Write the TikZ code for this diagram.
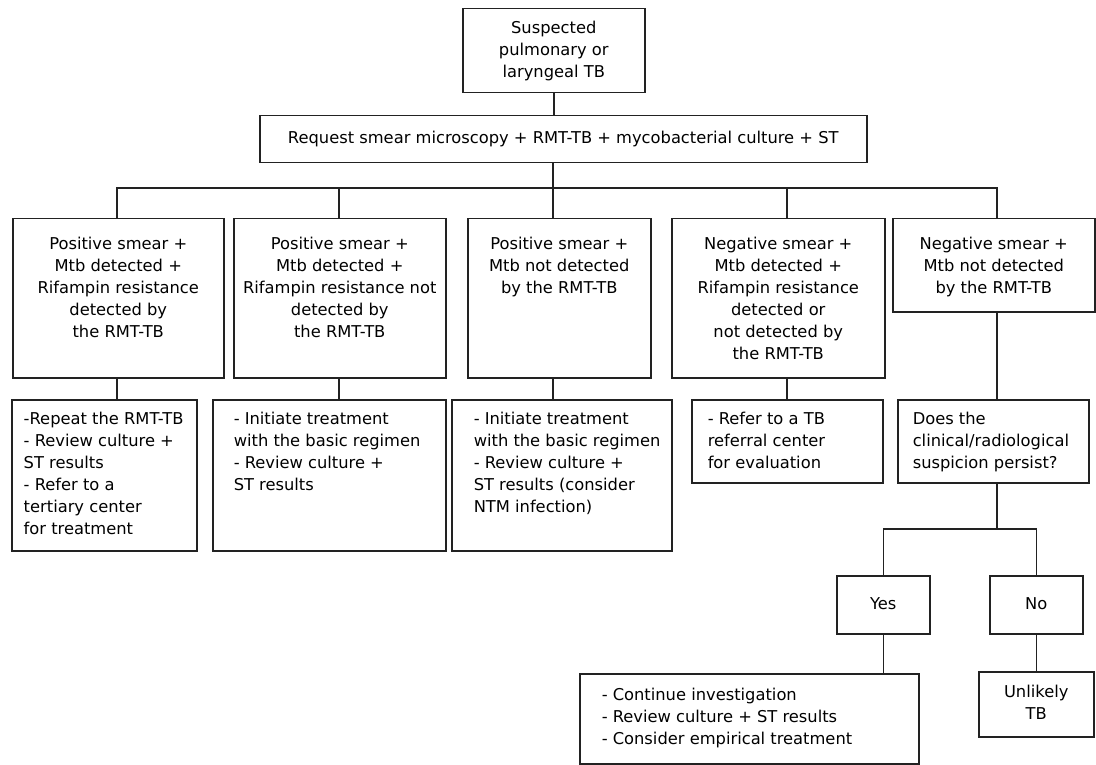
\documentclass[tikz,border=0pt]{standalone}
\usepackage{fontspec}
\setmainfont{DejaVu Sans}
\definecolor{lineclr}{RGB}{34,34,34}
\tikzset{
  bx/.style={draw=lineclr, line width=1.5pt, inner sep=0pt, anchor=north west, fill=white},
  ln/.style={draw=lineclr, line width=1.5pt, line join=miter},
}
% #1 name, #2 x1, #3 y1, #4 x2, #5 y2, #6 inner pos, #7 format, #8 text
\newcommand\fbx[8]{%
  \node[bx] (#1) at (#2,#3) {\parbox[t][\dimexpr #5pt-#3pt\relax][#6]{\dimexpr #4pt-#2pt\relax}{\fontsize{16.3}{22}\selectfont #7\leavevmode\strut #8\strut}};}
\newcommand\ctop[1]{\vspace*{#1pt}\centering}
\newcommand\cmid{\centering}
\newcommand\ltop[2]{\vspace*{#2pt}\raggedright\leftskip=#1pt\relax}
\begin{document}
\begin{tikzpicture}[x=1pt,y=-1pt]
\useasboundingbox (0,0) rectangle (1096,765);
% boxes
\fbx{top}{462}{8}{644}{92}{c}{\cmid}{Suspected\\pulmonary or\\laryngeal TB}
\fbx{req}{259}{115}{866}{162}{c}{\cmid}{Request smear microscopy + RMT-TB + mycobacterial culture + ST}
\fbx{b1}{12}{218}{223}{377}{t}{\ctop{15.6}}{Positive smear +\\Mtb detected +\\Rifampin resistance\\detected by\\the RMT-TB}
\fbx{b2}{233}{218}{445}{377}{t}{\ctop{15.6}}{Positive smear +\\Mtb detected +\\Rifampin resistance not\\detected by\\the RMT-TB}
\fbx{b3}{467}{218}{650}{377}{t}{\ctop{15.6}}{Positive smear +\\Mtb not detected\\by the RMT-TB}
\fbx{b4}{671}{218}{884}{377}{t}{\ctop{15.6}}{Negative smear +\\Mtb detected +\\Rifampin resistance\\detected or\\not detected by\\the RMT-TB}
\fbx{b5}{892}{218}{1094}{311}{t}{\ctop{15.6}}{Negative smear +\\Mtb not detected\\by the RMT-TB}
\fbx{cA}{11}{399}{196}{550}{t}{\ltop{12}{9.6}}{-Repeat the RMT-TB\\- Review culture +\\ST results\\- Refer to a\\tertiary center\\for treatment}
\fbx{cB}{212}{399}{445}{550}{t}{\ltop{21}{9.6}}{- Initiate treatment\\with the basic regimen\\- Review culture +\\ST results}
\fbx{cC}{451}{399}{671}{550}{t}{\ltop{22}{9.6}}{- Initiate treatment\\with the basic regimen\\- Review culture +\\ST results (consider\\NTM infection)}
\fbx{cD}{691}{399}{882}{482}{t}{\ltop{16}{9.6}}{- Refer to a TB\\referral center\\for evaluation}
\fbx{cE}{897}{399}{1088}{482}{t}{\ltop{15}{9.6}}{Does the\\clinical/radiological\\suspicion persist?}
\fbx{yes}{836}{575}{929}{633}{c}{\cmid}{Yes}
\fbx{no}{989}{575}{1082}{633}{c}{\cmid}{No}
\fbx{cont}{579}{673}{918}{763}{t}{\ltop{22}{11.6}}{- Continue investigation\\- Review culture + ST results\\- Consider empirical treatment}
\fbx{unl}{978}{671}{1093}{736}{c}{\cmid}{Unlikely\\TB}
% connector positions
\coordinate (k1) at (117,188);
\coordinate (k2) at (339,188);
\coordinate (k3) at (553,188);
\coordinate (k4) at (787,188);
\coordinate (k5) at (997,188);
\coordinate (sp) at (997,529);
% connectors
\draw[ln] (top.south) -- (req.north -| top.south);
\draw[ln] (req.south -| k3) -- (k3);
\draw[ln] (b1.north -| k1) -- (k1) -- (k5) -- (b5.north -| k5);
\draw[ln] (k2) -- (b2.north -| k2);
\draw[ln] (k3) -- (b3.north -| k3);
\draw[ln] (k4) -- (b4.north -| k4);
\draw[ln] (b1.south -| k1) -- (cA.north -| k1);
\draw[ln] (b2.south -| k2) -- (cB.north -| k2);
\draw[ln] (b3.south -| k3) -- (cC.north -| k3);
\draw[ln] (b4.south -| k4) -- (cD.north -| k4);
\draw[ln] (b5.south -| k5) -- (cE.north -| k5);
\draw[ln] (cE.south -| sp) -- (sp);
\draw[ln] (yes.north) -- (yes.north |- sp) -- (no.north |- sp) -- (no.north);
\draw[ln] (yes.south) -- (cont.north -| yes.south);
\draw[ln] (no.south) -- (unl.north -| no.south);
\end{tikzpicture}
\end{document}
